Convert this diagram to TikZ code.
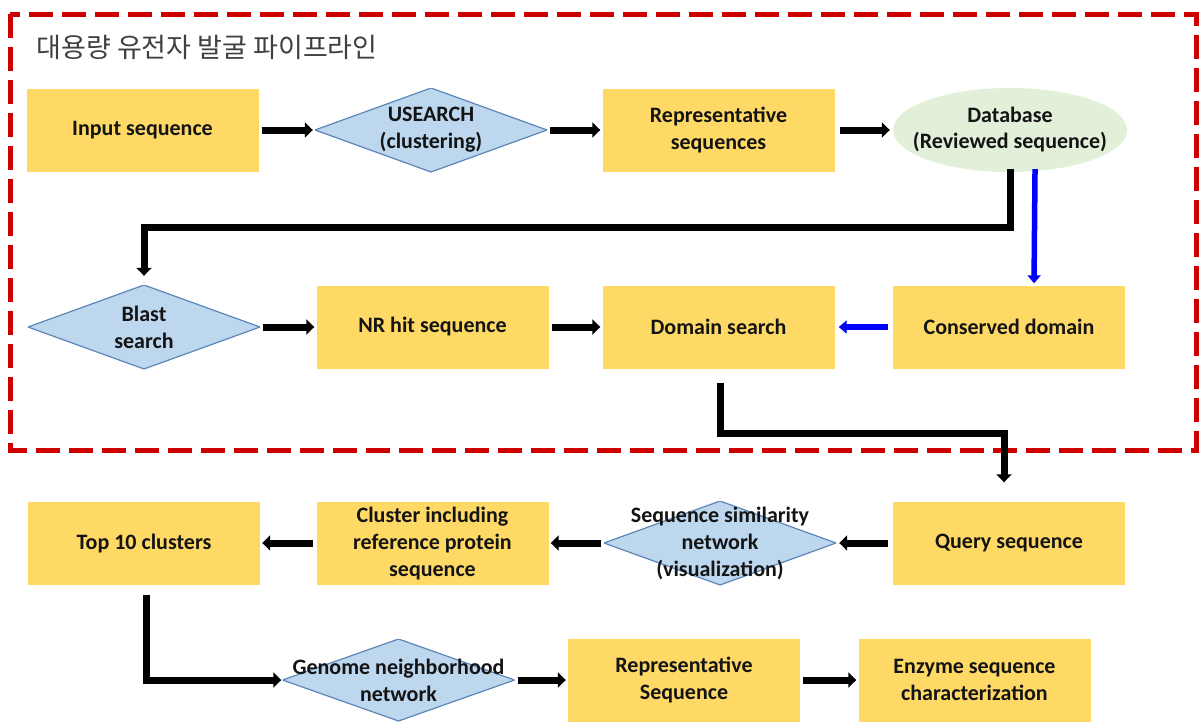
\documentclass[tikz,border=0pt]{standalone}
\usepackage{fontspec}
\setmainfont{Carlito}
\newfontfamily\kofont{Noto Sans CJK KR}
\usetikzlibrary{arrows.meta,shapes.geometric,positioning}

\definecolor{boxyellow}{HTML}{FFD966}
\definecolor{dmblue}{HTML}{BDD7EE}
\definecolor{dmline}{HTML}{5B87B8}
\definecolor{dbgreen}{HTML}{E2F0D9}
\definecolor{pipered}{HTML}{CC0000}
\definecolor{txt}{HTML}{141414}

\tikzset{
  proc/.style={fill=boxyellow,minimum width=232pt,minimum height=83pt,align=center,inner sep=0pt},
  decision/.style={minimum width=232pt,minimum height=84pt,align=center,inner sep=0pt,
    path picture={\path[fill=dmblue,draw=dmline,line width=1.2pt] (path picture bounding box.north)
      -- (path picture bounding box.east) -- (path picture bounding box.south)
      -- (path picture bounding box.west) -- cycle;}},
  store/.style={minimum width=234pt,minimum height=84pt,align=center,inner sep=0pt,
    path picture={\fill[dbgreen] (path picture bounding box.center) ellipse [x radius=117pt,y radius=42pt];}},
  flow/.style={line width=7pt,-{Triangle[length=8pt,width=15pt]},shorten <=3pt,shorten >=2pt},
  blueflow/.style={flow,draw=blue,line width=5.5pt,-{Triangle[length=8pt,width=13pt]}}
}

\begin{document}
\begin{tikzpicture}[x=1pt,y=-1pt,font=\fontsize{22}{27}\selectfont\bfseries,text=txt]
  \fill[white] (0,0) rectangle (1201,721);
  \path[use as bounding box] (0,0) rectangle (1201,721);

  % pipeline frame
  \draw[pipered,line width=5pt,dash pattern=on 24pt off 9pt] (10,14) rectangle (1196,450);
  \node[anchor=west,font=\kofont\fontsize{27}{30}\selectfont,text=black!75] (title) at (33,47) {대용량 유전자 발굴 파이프라인};

  % process boxes
  \foreach \n/\x/\y/\t in {input/142.5/130/{Input sequence},
                           repseq/718.5/130/{Representative\\sequences},
                           nrhit/432.5/327/{NR hit sequence},
                           domain/718.5/327/{Domain search},
                           conserved/1009/327/{Conserved domain},
                           top10/144/543/{Top 10 clusters},
                           cluster/432.5/543/{Cluster including\\reference protein\\sequence},
                           query/1009/543/{Query sequence},
                           repseqb/684/680/{Representative\\Sequence},
                           enzyme/974.5/680/{Enzyme sequence\\characterization}}
    \node[proc] (\n) at (\x,\y) {\t};

  % decisions and database
  \node[decision] (usearch) at (431,130) {USEARCH\\(clustering)};
  \node[decision] (blast) at (144,327) {Blast\\search};
  \node[decision] (ssn) at (720,543) {Sequence similarity\\network\\(visualization)};
  \node[decision,minimum height=82pt] (genome) at (398.5,680) {Genome neighborhood\\network};
  \node[store] (db) at (1010,130) {Database\\[-1pt](Reviewed sequence)};

  % connectors
  \draw[flow] (input) -- (usearch);
  \draw[flow] (usearch) -- (repseq);
  \draw[flow,shorten <=5pt,shorten >=3pt] (repseq) -- (db);
  \draw[flow,shorten <=-3pt,shorten >=9pt] (db.south) -- ++(0,55) -| (blast.north);
  \draw[blueflow,shorten <=-3pt] ([xshift=25pt]db.south) -- ([xshift=25pt]conserved.north);
  \draw[blueflow,shorten <=5pt,shorten >=4pt] (conserved) -- (domain);
  \draw[flow] (blast) -- (nrhit);
  \draw[flow] (nrhit) -- (domain);
  \draw[flow,shorten <=14pt,shorten >=19pt] ([xshift=1.5pt]domain.south) -- ++(0,65) -| ([xshift=-5pt]query.north);
  \draw[flow,shorten <=5pt,shorten >=3pt] (query) -- (ssn);
  \draw[flow] (ssn) -- (cluster);
  \draw[flow] (cluster) -- (top10);
  \draw[flow,shorten <=10pt,shorten >=1pt] ([xshift=2pt]top10.south) |- (genome.west);
  \draw[flow] (genome) -- (repseqb);
  \draw[flow] (repseqb) -- (enzyme);
\end{tikzpicture}
\end{document}
